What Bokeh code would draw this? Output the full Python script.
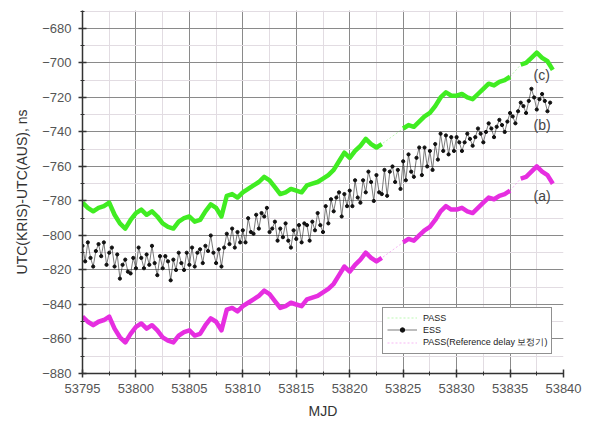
import numpy as np
from bokeh.plotting import figure
from bokeh.models import Legend, LegendItem, Range1d, SingleIntervalTicker, Label
from bokeh.embed import file_html
from bokeh.resources import INLINE

# ---------------- data ----------------
# segment start MJD for green (c) / magenta (a) series, sampled every 0.5 day
seg_starts = [53795.0, 53825.0, 53836.0]
seg_step = 0.5

pass_c = [
    [-781, -784, -786, -784, -783, -781, -788, -793, -796, -791,
     -787, -785, -788, -786, -789, -793, -795, -796, -792, -790,
     -789, -792, -791, -786, -782, -784, -789, -777, -776, -778,
     -775, -773, -771, -769, -766, -768, -772, -776, -775, -773,
     -774, -775, -771, -770, -769, -767, -765, -762, -757, -752,
     -755, -751, -748, -744, -747, -749, -747],
    [-738, -736, -737, -734, -731, -729, -725, -720, -717, -719,
     -719, -718, -720, -721, -718, -715, -712, -713, -711, -710, -708],
    [-701, -700, -697, -694, -697, -699, -704],
]

pass_ref_a = [
    [-847, -850, -852, -850, -849, -847, -854, -859, -862, -857,
     -853, -851, -854, -852, -855, -859, -861, -862, -858, -856,
     -855, -858, -857, -852, -848, -850, -855, -843, -842, -844,
     -841, -839, -837, -835, -832, -834, -838, -842, -841, -839,
     -840, -841, -837, -836, -835, -833, -831, -828, -823, -818,
     -821, -817, -814, -810, -813, -815, -813],
    [-804, -802, -803, -800, -797, -795, -791, -786, -783, -785,
     -785, -784, -786, -787, -784, -781, -778, -779, -777, -776, -774],
    [-767, -766, -763, -760, -763, -765, -770],
]

# ESS (b), sampled every 0.25 day from MJD 53795.0
ess_start = 53795.0
ess_step = 0.25
ess_b = [
    -806, -815, -804, -813, -818, -809, -805, -812, -804, -817, -810, -807,
    -818, -811, -825, -817, -814, -821, -822, -813, -819, -807, -813, -819,
    -811, -817, -806, -816, -823, -812, -819, -812, -815, -826, -814, -820,
    -810, -816, -820, -810, -817, -807, -818, -810, -808, -816, -806, -809,
    -800, -810, -816, -808, -818, -807, -799, -805, -796, -807, -798, -804,
    -797, -804, -790, -798, -799, -788, -796, -787, -789, -784, -798, -796,
    -792, -803, -796, -801, -793, -803, -807, -797, -802, -794, -804, -793,
    -794, -803, -792, -797, -787, -794, -798, -783, -793, -779, -786, -778,
    -775, -789, -776, -783, -774, -783, -768, -778, -781, -768, -775, -763,
    -769, -780, -765, -775, -776, -762, -777, -763, -760, -769, -762, -773,
    -757, -768, -753, -763, -766, -755, -749, -765, -749, -760, -751, -762,
    -747, -756, -741, -751, -742, -753, -743, -751,
    -743, -746, -751, -746, -741, -744, -748, -743, -738, -741, -746, -740,
    -735, -738, -743, -737, -733, -736, -740, -734, -729, -731, -735, -728,
    -723, -725, -729, -722, -715, -720, -727, -721, -718, -722, -728, -723,
]

curve_labels = ["(c)", "(b)", "(a)"]
curve_label_x = [53837.2, 53837.2, 53837.2]
curve_label_y = [-707, -736, -777]

legend_labels = ["PASS", "ESS", "PASS(Reference delay 보정기)"]

GREEN = "#40ec22"
MAGENTA = "#e62ee0"
FONT = "Liberation Sans"

# ---------------- figure ----------------
W, H = 590, 428
p = figure(width=W, height=H, output_backend="svg", toolbar_location=None,
           x_range=Range1d(53795, 53840), y_range=Range1d(-880, -669.6),
           min_border_left=82, min_border_right=W - 563, min_border_top=10,
           min_border_bottom=H - 373)
p.outline_line_color = None
p.background_fill_color = "white"

p.xaxis.ticker = SingleIntervalTicker(interval=5, num_minor_ticks=2)
p.yaxis.ticker = SingleIntervalTicker(interval=20, num_minor_ticks=2)
for g in (p.xgrid, p.ygrid):
    g.grid_line_color = "#8a8a8a"
    g.grid_line_width = 1
    g.minor_grid_line_color = "#e2dce2"
    g.minor_grid_line_width = 1

for ax in (p.xaxis, p.yaxis):
    ax.axis_line_color = "#333333"
    ax.axis_line_width = 1.5
    ax.major_tick_line_color = "#333333"
    ax.major_tick_line_width = 1.5
    ax.major_tick_in = 4
    ax.major_tick_out = 4
    ax.minor_tick_line_color = "#333333"
    ax.minor_tick_in = 2
    ax.minor_tick_out = 2
    ax.major_label_text_font = FONT
    ax.major_label_text_font_size = "13px"
    ax.major_label_text_color = "#555555"
    ax.axis_label_text_font = FONT
    ax.axis_label_text_font_size = "14px"
    ax.axis_label_text_font_style = "normal"
    ax.axis_label_text_color = "#333333"

p.xaxis.axis_label = "MJD"
p.yaxis.axis_label = "UTC(KRIS)-UTC(AUS), ns"
p.xaxis.major_label_standoff = 6
p.xaxis.axis_label_standoff = 7
p.yaxis.major_label_standoff = 7
p.yaxis.axis_label_standoff = 9


def seg_x(start, n):
    return [start + seg_step * i for i in range(n)]


def draw_pass(segs, color):
    xs = [seg_x(s, len(v)) for s, v in zip(seg_starts, segs)]
    allx = sum(xs, [])
    ally = sum(segs, [])
    thin = p.line(allx, ally, line_color=color, line_width=1, line_alpha=0.35,
                  line_dash="2 2")
    for x, y in zip(xs, segs):
        p.line(x, y, line_color=color, line_width=4.5, line_join="round")
    return thin


thin_c = draw_pass(pass_c, GREEN)
thin_a = draw_pass(pass_ref_a, MAGENTA)

ess_x = [ess_start + ess_step * i for i in range(len(ess_b))]
ess_line = p.line(ess_x, ess_b, line_color="#222222", line_width=0.6)
ess_pts = p.scatter(ess_x, ess_b, size=3.2, fill_color="#111111",
                    line_color="#111111")

for t, x, y in zip(curve_labels, curve_label_x, curve_label_y):
    p.add_layout(Label(x=x, y=y, text=t, text_font=FONT, text_font_size="14px",
                       text_color="#444444", text_baseline="middle"))

legend = Legend(items=[
    LegendItem(label=legend_labels[0], renderers=[thin_c]),
    LegendItem(label=legend_labels[1], renderers=[ess_line, ess_pts]),
    LegendItem(label=legend_labels[2], renderers=[thin_a]),
], location=(300, 19))
legend.label_text_font = FONT
legend.label_text_font_size = "9px"
legend.label_text_color = "#222222"
legend.label_height = 11
legend.glyph_height = 11
legend.glyph_width = 30
legend.label_standoff = 6
legend.spacing = 1
legend.padding = 4
legend.margin = 0
legend.border_line_color = "#222222"
legend.border_line_width = 1
legend.background_fill_alpha = 1
p.add_layout(legend)

open("out.html", "w").write(file_html(p, INLINE))
